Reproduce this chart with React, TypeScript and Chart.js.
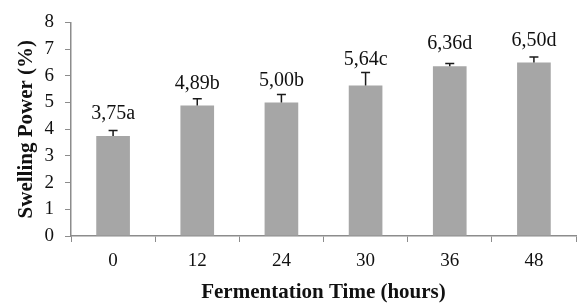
import React, { useEffect, useRef } from "react";
import { Chart, registerables } from "chart.js";

Chart.register(...registerables);

const categories = ["0", "12", "24", "30", "36", "48"];
const swellingValues = [3.75, 4.89, 5.0, 5.64, 6.36, 6.5];
const errorValues = [0.2, 0.25, 0.3, 0.48, 0.1, 0.2];
const letters = ["a", "b", "b", "c", "d", "d"];
const yTicks = [0, 1, 2, 3, 4, 5, 6, 7, 8];

const FONT = "'Liberation Serif', 'Times New Roman', serif";

const annotate = {
  id: "annotate",
  afterDatasetsDraw(chart: any) {
    const ctx = chart.ctx;
    const meta = chart.getDatasetMeta(0);
    const y = chart.scales.y;
    ctx.save();
    meta.data.forEach((bar: any, i: number) => {
      const v = swellingValues[i];
      const e = errorValues[i];
      const yTop = y.getPixelForValue(v + e);
      const yBar = y.getPixelForValue(v);
      ctx.strokeStyle = "#1a1a1a";
      ctx.lineWidth = 1.5;
      ctx.beginPath();
      ctx.moveTo(bar.x, yBar);
      ctx.lineTo(bar.x, yTop);
      ctx.moveTo(bar.x - 4.5, yTop);
      ctx.lineTo(bar.x + 4.5, yTop);
      ctx.stroke();
      const label = v.toFixed(2).replace(".", ",") + letters[i];
      const ly = Math.min(yBar - 22, yTop - 13);
      ctx.fillStyle = "#111";
      ctx.font = `20px ${FONT}`;
      ctx.textAlign = "center";
      ctx.textBaseline = "middle";
      ctx.fillText(label, bar.x, ly);
    });
    ctx.restore();
  },
};

export default function App() {
  const ref = useRef<HTMLCanvasElement>(null);
  useEffect(() => {
    document.body.style.margin = "0";
    const chart = new Chart(ref.current!, {
      type: "bar",
      data: {
        labels: categories,
        datasets: [
          {
            data: swellingValues,
            backgroundColor: "#a6a6a6",
            categoryPercentage: 0.4,
            barPercentage: 1,
          },
        ],
      },
      options: {
        animation: false,
        responsive: false,
        layout: { padding: { top: 19, right: 2, left: 0, bottom: 0 } },
        plugins: { legend: { display: false }, tooltip: { enabled: false } },
        scales: {
          x: {
            grid: {
              drawOnChartArea: false,
              drawTicks: true,
              tickLength: 6,
              color: "#8c8c8c",
              offset: true,
            },
            border: { color: "#8c8c8c", width: 1.5 },
            ticks: { color: "#111", font: { family: FONT, size: 19 }, padding: 8 },
            title: {
              display: true,
              text: "Fermentation Time (hours)",
              color: "#111",
              font: { family: FONT, size: 21, weight: "bold", lineHeight: 1.1 },
              padding: { top: 4, bottom: 0 },
            },
            afterFit: (s: any) => {
              s.height = 68;
            },
          },
          y: {
            min: 0,
            max: 8,
            afterBuildTicks: (s: any) => {
              s.ticks = yTicks.map((v) => ({ value: v }));
            },
            grid: {
              drawOnChartArea: false,
              drawTicks: true,
              tickLength: 6,
              color: "#8c8c8c",
            },
            border: { color: "#8c8c8c", width: 1.5 },
            ticks: { color: "#111", font: { family: FONT, size: 19 }, padding: 11 },
            title: {
              display: true,
              text: "Swelling Power (%)",
              color: "#111",
              font: { family: FONT, size: 21, weight: "bold" },
              padding: { top: 14, bottom: 4 },
            },
            afterFit: (s: any) => {
              s.width = 71;
            },
          },
        },
      },
      plugins: [annotate],
    });
    return () => chart.destroy();
  }, []);
  return (
    <div style={{ position: "absolute", left: 0, top: 0, width: 578, height: 304, background: "#fff" }}>
      <canvas ref={ref} width={578} height={304} />
    </div>
  );
}
